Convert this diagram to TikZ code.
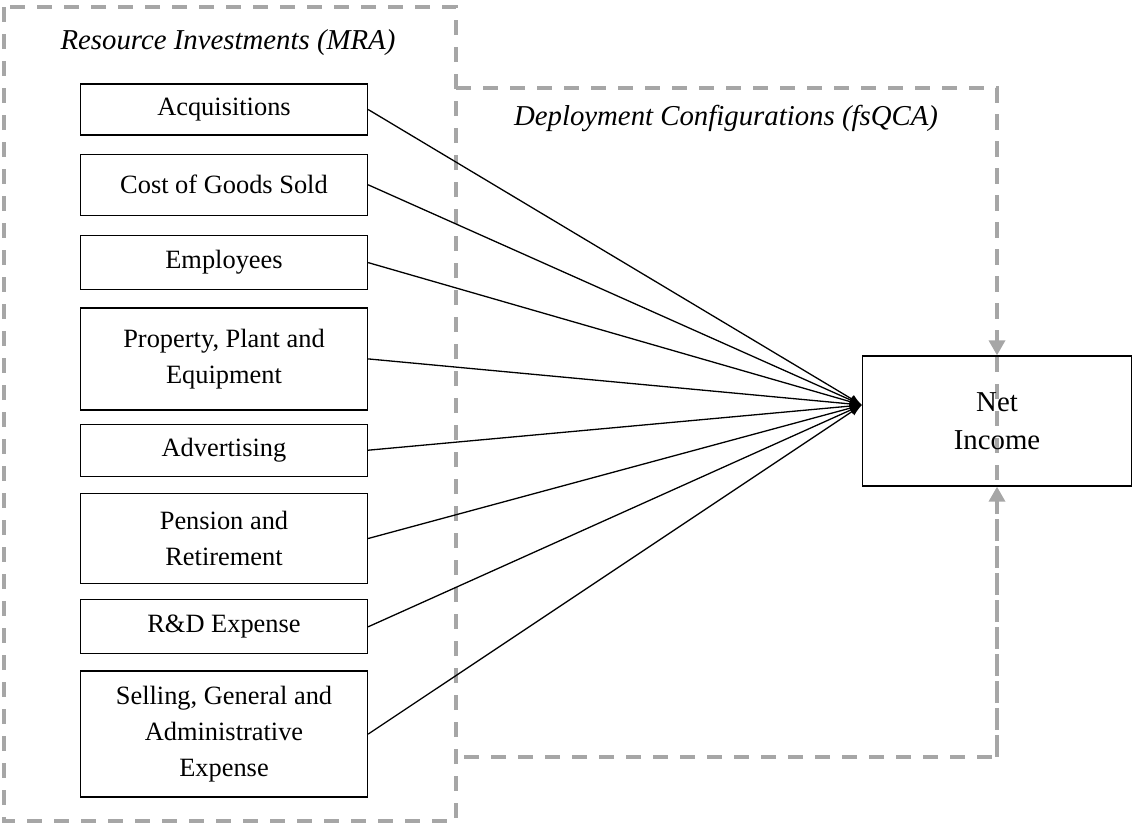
\documentclass[tikz,border=0pt]{standalone}
\usepackage{fontspec}
\setmainfont{Liberation Serif}
\usetikzlibrary{positioning,arrows.meta}
\definecolor{framegray}{RGB}{166,166,166}
\begin{document}
\begin{tikzpicture}[x=0.5pt, y=-0.5pt, line width=0.65pt, >={Latex[length=6pt,width=4.5pt]},
                    box/.style = {draw, rectangle, minimum width=143.5pt, align=center, inner sep=2pt, font=\fontsize{13.2}{18}\selectfont},
                    title/.style = {font=\fontsize{14.4}{19}\selectfont\itshape},
                    frame/.style = {draw=framegray, line width=1.7pt, dash pattern=on 7.5pt off 6pt},
                    feed/.style = {framegray, line width=1.7pt, dash pattern=on 7.5pt off 6pt, -{Triangle[length=7.5pt,width=8pt]}}]
    \useasboundingbox (0,0) rectangle (1135,825);
    % dashed frames
    \draw[frame] (4,7) rectangle (456,821);
    \coordinate (cfgtop) at (997,88);
    \coordinate (cfgbot) at (997,757);
    \draw[frame] (456,88) -- (cfgtop) -- (cfgbot) -- (456,757);
    \node[title] (mra) at (228,43) {Resource Investments (MRA)};
    \node[title] (qca) at (726,118) {Deployment Configurations (fsQCA)};
    % resource boxes
    \node[box, minimum height=25.5pt] (acq) at (224,109.5) {Acquisitions};
    \node[box, minimum height=30.5pt, below=9pt of acq] (cogs) {Cost of Goods Sold};
    \node[box, minimum height=27pt, below=9.5pt of cogs] (emp) {Employees};
    \node[box, minimum height=51pt, below=8.5pt of emp] (ppe) {Property, Plant and\\Equipment};
    \node[box, minimum height=26pt, below=6.5pt of ppe] (adv) {Advertising};
    \node[box, minimum height=45pt, below=8pt of adv] (pen) {Pension and\\Retirement};
    \node[box, minimum height=27pt, below=7.5pt of pen] (rnd) {R\&D Expense};
    \node[box, minimum height=63pt, below=8pt of rnd] (sga) {Selling, General and\\Administrative\\Expense};
    % outcome
    \node[draw, rectangle, minimum width=134.5pt, minimum height=65pt, align=center, font=\fontsize{14.4}{19}\selectfont] (ni) at (997,421) {Net\\Income};
    \coordinate (hub) at ([yshift=8pt]ni.west);
    \foreach \n in {acq,cogs,emp,ppe,adv,pen,rnd,sga}
        \draw[->] (\n.east) -- (hub);
    \draw[feed] (cfgtop) -- (ni.north);
    \draw[feed] (cfgbot) -- (ni.south);
\end{tikzpicture}
\end{document}
